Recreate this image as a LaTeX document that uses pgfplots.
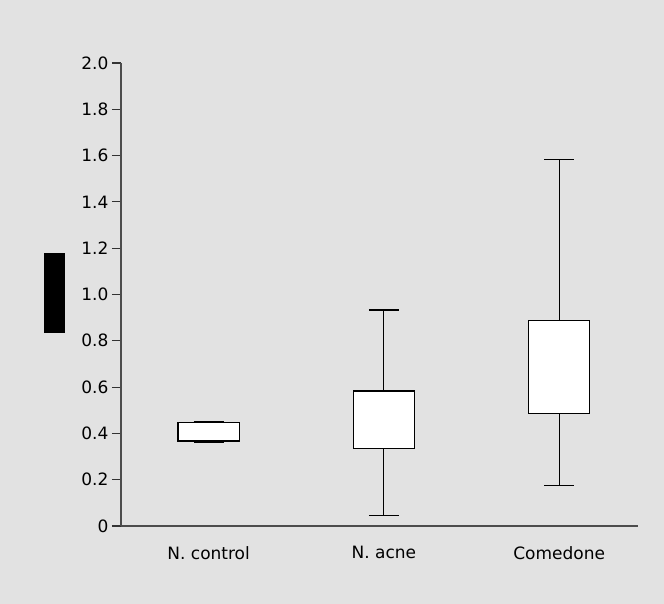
\documentclass[border=0pt]{standalone}
\usepackage{fontspec}
\setmainfont{DejaVu Sans}
\usepackage{pgfplots}
\usepgfplotslibrary{statistics}
\pgfplotsset{compat=1.18}
\definecolor{bg}{HTML}{E2E2E2}
\begin{document}
\begin{tikzpicture}
  % page background, same size as the reference
  \fill[bg] (-121pt,-78pt) rectangle (543pt,526pt);
  % redacted y label
  \fill[black] (-77pt,193pt) rectangle (-56pt,273pt);
  \begin{axis}[
    at={(0pt,0pt)}, anchor=origin,
    scale only axis, width=517pt, height=463pt,
    xmin=0.5, xmax=3.45, ymin=0, ymax=2,
    axis x line*=bottom, axis y line*=left,
    axis line style={line width=1.1pt, draw=black!70},
    xtick={1,2,3}, xticklabels={N. control, N. acne, Comedone},
    x tick style={draw=none},
    ytick={0,0.2,...,2.0},
    yticklabels={0,0.2,0.4,0.6,0.8,1.0,1.2,1.4,1.6,1.8,2.0},
    tick align=outside, major tick length=9pt,
    y tick style={line width=1.1pt, draw=black!80},
    ticklabel style={font=\fontsize{17}{19}\selectfont},
    xticklabel style={yshift=-8pt},
    boxplot/draw direction=y,
    boxplot/box extend=0.35,
    boxplot/whisker extend=0.17,
  ]
    \addplot[draw=black, line width=1.1pt, fill=white, boxplot prepared={
        draw position=1, lower whisker=0.363, lower quartile=0.367,
        median=0.367, upper quartile=0.449, upper whisker=0.453}]
      coordinates {};
    \addplot[draw=black, line width=1.1pt, fill=white, boxplot prepared={
        draw position=2, lower whisker=0.047, lower quartile=0.333,
        median=0.333, upper quartile=0.583, upper whisker=0.933}]
      coordinates {};
    \addplot[draw=black, line width=1.1pt, fill=white, boxplot prepared={
        draw position=3, lower whisker=0.173, lower quartile=0.484,
        median=0.484, upper quartile=0.886, upper whisker=1.583}]
      coordinates {};
  \end{axis}
\end{tikzpicture}
\end{document}
